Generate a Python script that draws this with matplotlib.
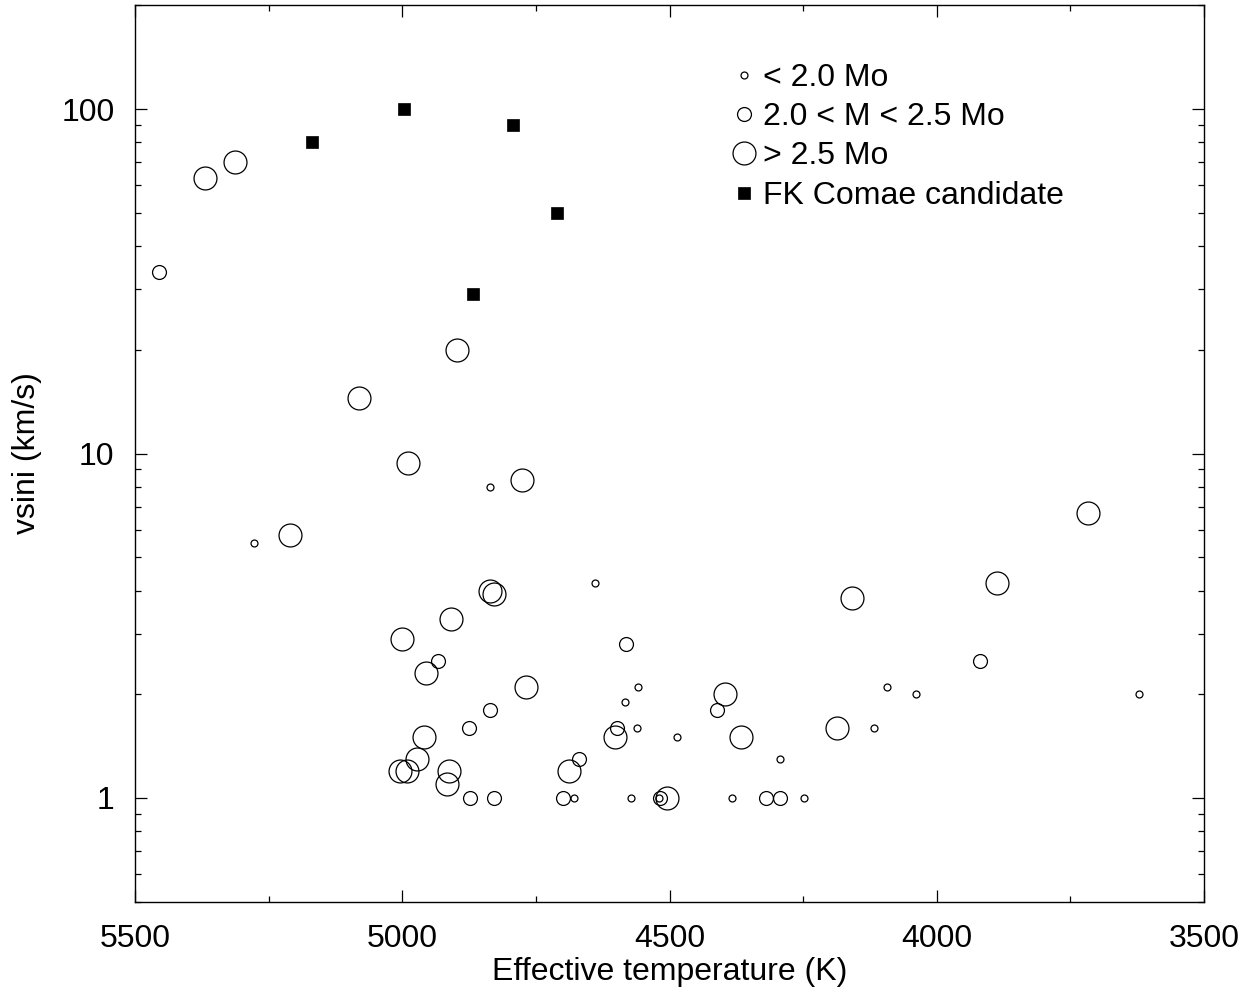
import numpy as np
import matplotlib.pyplot as plt
from matplotlib.ticker import MultipleLocator, FixedLocator, FixedFormatter, LogLocator, NullFormatter

plt.rcParams['font.family'] = ['Liberation Sans', 'DejaVu Sans']

# stars with M < 2.0 Mo
teff_low = [4836, 5278, 4639, 4559, 4093, 4039, 3621, 4583, 4561, 4118, 4486, 4294,
            4678, 4573, 4519, 4384, 4248]
vsini_low = [8.0, 5.5, 4.2, 2.1, 2.1, 2.0, 2.0, 1.9, 1.6, 1.6, 1.5, 1.3,
             1.0, 1.0, 1.0, 1.0, 1.0]

# stars with 2.0 < M < 2.5 Mo
teff_mid = [5455, 4582, 4934, 3919, 4836, 4411, 4876, 4598, 4669,
            4873, 4828, 4699, 4518, 4320, 4293]
vsini_mid = [33.7, 2.8, 2.5, 2.5, 1.8, 1.8, 1.6, 1.6, 1.3,
             1.0, 1.0, 1.0, 1.0, 1.0, 1.0]

# stars with M > 2.5 Mo
teff_high = [5370, 5313, 4897, 5081, 4989, 4776, 5211, 3717, 3888, 4158, 4837, 4829,
             4910, 5000, 4956, 4768, 4397, 4186, 4602, 4367, 4960, 4972, 5004, 4991,
             4912, 4689, 4916, 4504]
vsini_high = [63, 70, 20, 14.5, 9.4, 8.4, 5.8, 6.7, 4.2, 3.8, 4.0, 3.9,
              3.3, 2.9, 2.3, 2.1, 2.0, 1.6, 1.5, 1.5, 1.5, 1.3, 1.2, 1.2,
              1.2, 1.2, 1.1, 1.0]

# FK Comae candidates
teff_fk = [5169, 4997, 4793, 4711, 4868]
vsini_fk = [80, 100, 90, 50, 29]

fig = plt.figure(figsize=(12.49, 9.96), dpi=100)
ax = fig.add_axes([0.1083, 0.0947, 0.8556, 0.8999])

ax.plot(teff_low, vsini_low, "o", ms=5, mfc="none", mec="black", mew=0.9,
        label="< 2.0 Mo")
ax.plot(teff_mid, vsini_mid, "o", ms=10, mfc="none", mec="black", mew=0.9,
        label="2.0 < M < 2.5 Mo")
ax.plot(teff_high, vsini_high, "o", ms=16.5, mfc="none", mec="black", mew=0.9,
        label="> 2.5 Mo")
ax.plot(teff_fk, vsini_fk, "s", ms=8.8, mfc="black", mec="black", mew=0.5,
        label="FK Comae candidate")

ax.set_xlim(5500, 3500)
ax.set_yscale("log")
ax.set_ylim(0.5, 200)

ax.xaxis.set_major_locator(MultipleLocator(500))
ax.xaxis.set_minor_locator(MultipleLocator(250))
ax.yaxis.set_major_locator(FixedLocator([1, 10, 100]))
ax.yaxis.set_major_formatter(FixedFormatter(["1", "10", "100"]))
ax.yaxis.set_minor_locator(LogLocator(base=10, subs=np.arange(2, 10)))
ax.yaxis.set_minor_formatter(NullFormatter())

ax.tick_params(which="both", direction="in", top=True, right=True, labelsize=23,
               width=0.9)
ax.tick_params(axis="x", which="major", pad=16)
ax.tick_params(axis="y", which="major", pad=15)
ax.tick_params(which="major", length=8.5)
ax.tick_params(which="minor", length=4.5)
for s in ax.spines.values():
    s.set_linewidth(1.0)

ax.set_xlabel("Effective temperature (K)", fontsize=23, labelpad=2)
ax.set_ylabel("vsini (km/s)", fontsize=23, labelpad=14)

ax.legend(loc="upper left", bbox_to_anchor=(0.544, 0.95), frameon=False,
          fontsize=23, handlelength=0.9, handletextpad=0.15, labelspacing=0.29,
          borderaxespad=0)

fig.savefig("out.png", dpi=100)
